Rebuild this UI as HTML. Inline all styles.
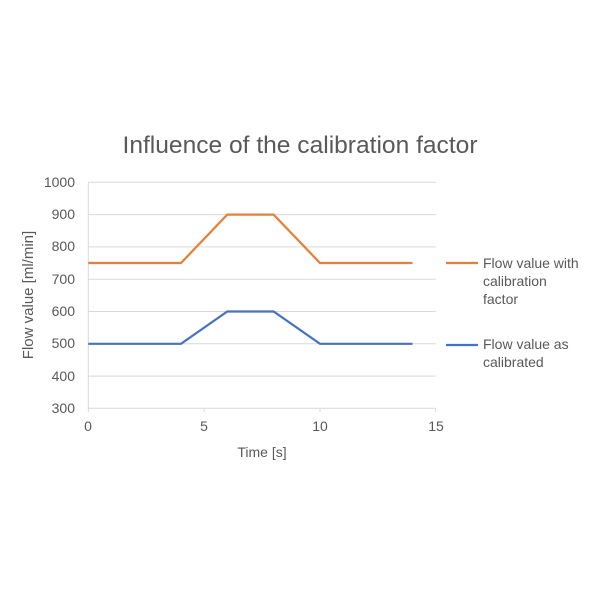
<!DOCTYPE html>
<html><head><style>body{margin:0;background:#fff}</style></head><body>
<svg width="600" height="600" xmlns="http://www.w3.org/2000/svg" font-family="Liberation Sans, sans-serif" fill="#595959">
<rect width="600" height="600" fill="#fff"/>
<text x="300" y="153" font-size="24" text-anchor="middle" textLength="355" lengthAdjust="spacingAndGlyphs">Influence of the calibration factor</text>
<g stroke="#d9d9d9" stroke-width="1">
<line x1="88" y1="182.3" x2="435.7" y2="182.3"/>
<line x1="88" y1="214.6" x2="435.7" y2="214.6"/>
<line x1="88" y1="246.9" x2="435.7" y2="246.9"/>
<line x1="88" y1="279.2" x2="435.7" y2="279.2"/>
<line x1="88" y1="311.5" x2="435.7" y2="311.5"/>
<line x1="88" y1="343.8" x2="435.7" y2="343.8"/>
<line x1="88" y1="376.1" x2="435.7" y2="376.1"/>
<line x1="88.3" y1="182.3" x2="88.3" y2="412"/>
<line x1="88" y1="408.3" x2="435.7" y2="408.3"/>
<line x1="204.2" y1="408.3" x2="204.2" y2="412"/>
<line x1="320" y1="408.3" x2="320" y2="412"/>
<line x1="435.7" y1="408.3" x2="435.7" y2="412"/>
</g>
<g font-size="14" text-anchor="end">
<text x="75" y="187">1000</text><text x="75" y="219">900</text><text x="75" y="251">800</text><text x="75" y="284">700</text><text x="75" y="316">600</text><text x="75" y="348">500</text><text x="75" y="381">400</text><text x="75" y="413">300</text>
</g>
<g font-size="14" text-anchor="middle">
<text x="88" y="431">0</text><text x="204" y="431">5</text><text x="320" y="431">10</text><text x="436" y="431">15</text>
<text x="262" y="457">Time [s]</text>
</g>
<text transform="translate(33,295) rotate(-90)" font-size="15" text-anchor="middle">Flow value [ml/min]</text>
<polyline fill="none" stroke="#ed7d31" stroke-width="2.2" points="88.3,263 181,263 227.3,214.6 273.6,214.6 320,263 412.5,263"/>
<polyline fill="none" stroke="#4472c4" stroke-width="2.2" points="88.3,343.8 181,343.8 227.3,311.5 273.6,311.5 320,343.8 412.5,343.8"/>
<line x1="446" y1="263" x2="478" y2="263" stroke="#ed7d31" stroke-width="2.2"/>
<line x1="446" y1="345" x2="478" y2="345" stroke="#4472c4" stroke-width="2.2"/>
<g font-size="14">
<text x="483" y="268">Flow value with</text><text x="483" y="286">calibration</text><text x="483" y="304">factor</text>
<text x="483" y="349">Flow value as</text><text x="483" y="367">calibrated</text>
</g>
</svg>
</body></html>
